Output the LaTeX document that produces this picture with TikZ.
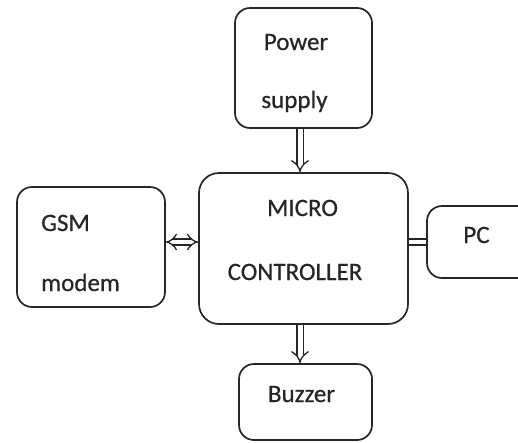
\documentclass[tikz,border=0pt]{standalone}
\usepackage{fontspec}
\setmainfont{Carlito}[FakeBold=0.6]
\usetikzlibrary{arrows.meta}
\begin{document}
\begin{tikzpicture}[x=1pt,y=-1pt,
  box/.style={draw=black!85, line width=1.7pt, rounded corners=15pt, inner sep=0pt},
  txt/.style={font=\fontsize{25}{25}\selectfont, text=black!85, inner sep=0pt, anchor=base},
  link/.style={draw=black!85, line width=1.3pt, double=white, double distance=5pt, -{Implies}},
  biglink/.style={draw=black!85, line width=1.3pt, double=white, double distance=4.5pt,
    {Implies[length=3pt]}-{Implies[length=3pt]}},
  smalllink/.style={draw=black!85, line width=1.3pt, double=white, double distance=4.5pt}]
  \useasboundingbox (0,0) rectangle (518,442);
  \begin{scope}
  \clip (0,0) rectangle (518,442);
  % blocks
  \node[box, minimum width=137pt, minimum height=120pt] (power) at (303.5,68) {};
  \node[box, minimum width=209pt, minimum height=151pt, rounded corners=20pt] (micro) at (303.5,248.5) {};
  \node[box, minimum width=148pt, minimum height=120pt] (gsm) at (91,247) {};
  \node[box, minimum width=110pt, minimum height=72pt] (pc) at (482,242) {};
  \node[box, minimum width=133pt, minimum height=76pt] (buzzer) at (305.5,402) {};
  \end{scope}
  % labels
  \node[txt] (tpower) at (296,50) {Power};
  \node[txt] (tsupply) at (294.5,108) {supply};
  \node[txt] (tmicro) at (302.5,216) {MICRO};
  \node[txt] (tctrl) at (295,280) {CONTROLLER};
  \node[txt, anchor=base west] (tgsm) at (41,231) {GSM};
  \node[txt, anchor=base west] (tmodem) at (41,291) {modem};
  \node[txt] (tpc) at (476.5,243) {PC};
  \node[txt] (tbuzzer) at (301.5,402) {Buzzer};
  % connectors
  \coordinate (ax) at (300,0);
  \coordinate (ay) at (0,242);
  \draw[link] (power.south -| ax) -- (micro.north -| ax);
  \draw[link] (micro.south -| ax) -- (buzzer.north -| ax);
  \draw[biglink] (gsm.east |- ay) -- (micro.west |- ay);
  \draw[smalllink] (micro.east |- ay) -- (pc.west |- ay);
\end{tikzpicture}
\end{document}
